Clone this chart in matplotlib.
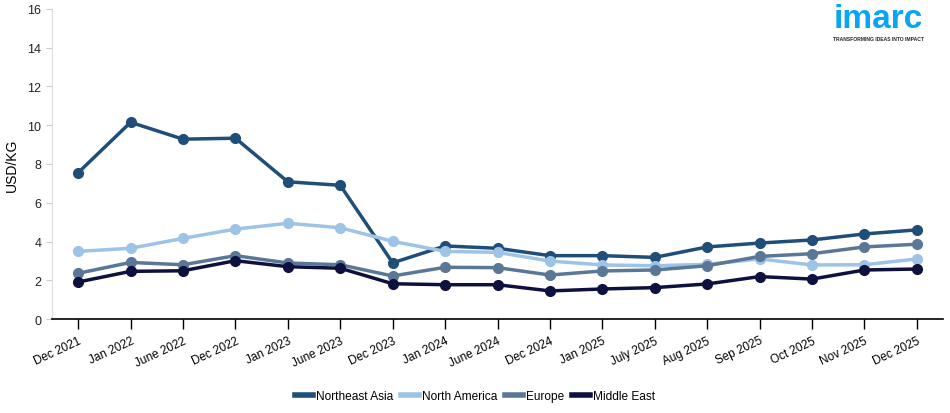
import matplotlib.pyplot as plt
from matplotlib.lines import Line2D

# --- Data ---
periods = ["Dec 2021", "Jan 2022", "June 2022", "Dec 2022", "Jan 2023", "June 2023",
           "Dec 2023", "Jan 2024", "June 2024", "Dec 2024", "Jan 2025", "July 2025",
           "Aug 2025", "Sep 2025", "Oct 2025", "Nov 2025", "Dec 2025"]
northeast_asia = [7.55, 10.15, 9.28, 9.33, 7.08, 6.9, 2.9, 3.77, 3.65, 3.27, 3.27, 3.18,
                  3.72, 3.92, 4.08, 4.39, 4.6]
north_america = [3.49, 3.65, 4.16, 4.64, 4.94, 4.71, 4.01, 3.49, 3.44, 2.99, 2.79, 2.75,
                 2.82, 3.1, 2.79, 2.8, 3.1]
europe = [2.36, 2.92, 2.8, 3.27, 2.89, 2.8, 2.22, 2.67, 2.65, 2.27, 2.48, 2.53,
          2.75, 3.23, 3.37, 3.72, 3.86]
middle_east = [1.91, 2.46, 2.49, 3.01, 2.7, 2.62, 1.82, 1.77, 1.77, 1.45, 1.55, 1.62,
               1.81, 2.19, 2.06, 2.53, 2.58]

series = [
    ("Northeast Asia", northeast_asia, "#1f4e79"),
    ("North America", north_america, "#9dc3e6"),
    ("Europe", europe, "#5a7896"),
    ("Middle East", middle_east, "#0e1140"),
]

plt.rcParams["font.family"] = ["Liberation Sans", "DejaVu Sans"]

fig = plt.figure(figsize=(9.5, 4.14), dpi=100)
ax = fig.add_axes([0.0547, 0.227, 0.938, 0.749])

x = list(range(len(periods)))
for name, vals, color in series:
    ax.plot(x, vals, color=color, lw=2.5, marker="o", markersize=7, label=name)

ax.set_xlim(-0.5, len(periods) - 0.5)
ax.set_ylim(0, 16)
ax.set_yticks(range(0, 17, 2))
ax.set_xticks(x)
ax.set_xticklabels(periods, rotation=25, ha="right", rotation_mode="anchor", fontsize=8.5)
ax.tick_params(axis="y", labelsize=9, length=4, color="#cccccc", labelcolor="#222222")
ax.tick_params(axis="x", length=7, width=1, color="black", pad=4)
ax.set_ylabel("USD/KG", fontsize=10, labelpad=6)

for side in ["top", "right"]:
    ax.spines[side].set_visible(False)
ax.spines["left"].set_color("#dddddd")
ax.spines["bottom"].set_color("black")
ax.spines["bottom"].set_linewidth(1.2)

handles = [Line2D([0], [0], color=c, lw=4) for _, _, c in series]
fig.legend(handles, [n for n, _, _ in series], loc="center", bbox_to_anchor=(0.5, 0.04),
           ncol=4, frameon=False, fontsize=8.6, handlelength=1.5, handletextpad=0.3,
           columnspacing=0.6)

# logo
fig.text(0.925, 0.952, "imarc", color="#0aa5f0", fontsize=24, fontweight="bold",
         ha="center", va="center")
fig.text(0.925, 0.905, "TRANSFORMING IDEAS INTO IMPACT", color="#222222", fontsize=3.6,
         fontweight="bold", ha="center", va="center")

plt.savefig("out.png", dpi=100)
